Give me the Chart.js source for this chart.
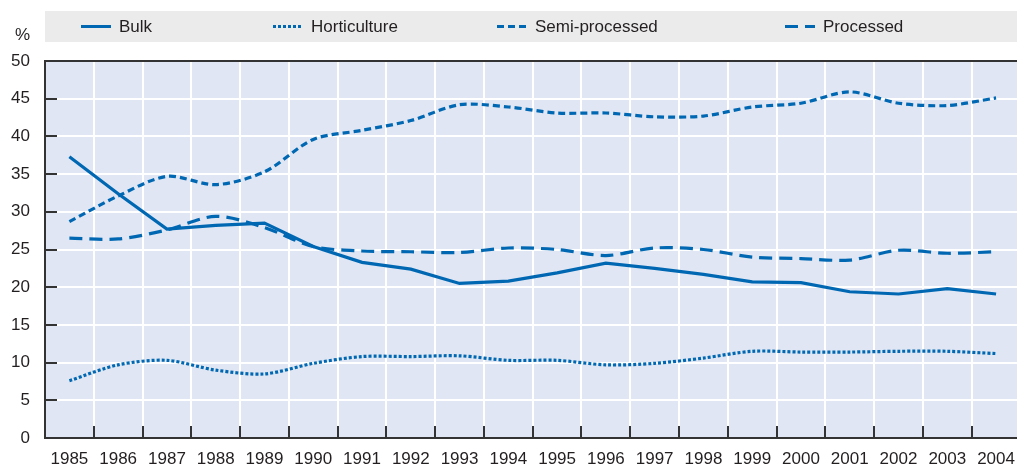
<!DOCTYPE html>
<html>
<head>
<meta charset="utf-8">
<script src="https://cdn.jsdelivr.net/npm/chart.js@4"></script>
<style>
  html, body { margin: 0; padding: 0; background: #fff; overflow: hidden; }
  #wrap { width: 1017px; height: 466px; overflow: hidden; }
</style>
</head>
<body>
<div id="wrap"><canvas id="chart" width="1026" height="466"></canvas></div>
<script>
// data
const years = ['1985', '1986', '1987', '1988', '1989', '1990', '1991', '1992', '1993', '1994',
               '1995', '1996', '1997', '1998', '1999', '2000', '2001', '2002', '2003', '2004'];
const bulk = [37.3, 32.4, 27.7, 28.2, 28.5, 25.4, 23.3, 22.4, 20.5, 20.8,
              21.9, 23.2, 22.5, 21.7, 20.7, 20.6, 19.4, 19.1, 19.8, 19.1];
const horticulture = [7.6, 9.7, 10.3, 9.0, 8.5, 9.9, 10.8, 10.8, 10.9, 10.3,
                      10.3, 9.7, 9.9, 10.6, 11.5, 11.4, 11.4, 11.5, 11.5, 11.2];
const semiProcessed = [28.7, 32.1, 34.7, 33.6, 35.3, 39.6, 40.8, 42.1, 44.2, 43.9,
                       43.1, 43.1, 42.6, 42.7, 43.9, 44.4, 45.9, 44.4, 44.1, 45.1];
const processed = [26.5, 26.4, 27.6, 29.4, 27.9, 25.4, 24.8, 24.7, 24.6, 25.2,
                   25.0, 24.2, 25.2, 25.0, 24.0, 23.8, 23.6, 24.9, 24.5, 24.7];
const yMin = 0, yMax = 50, yStep = 5;

const FONT = "'Liberation Sans', Arial, sans-serif";
const BLUE = '#0068b3';
const TEXT = '#231f20';
const AXIS = '#333333';

// background, legend band, inward ticks and top border
const frame = {
  id: 'frame',
  beforeDraw(chart) {
    const { ctx, chartArea: a } = chart;
    ctx.save();
    ctx.fillStyle = '#e0e6f3';
    ctx.fillRect(a.left, a.top, a.right - a.left, a.bottom - a.top);

    ctx.fillStyle = '#ebebeb';
    ctx.fillRect(a.left, 11, chart.width - a.left, 31);

    const xs = [81, 273, 497, 785];
    ctx.font = '17px ' + FONT;
    ctx.textBaseline = 'middle';
    chart.data.datasets.forEach((ds, i) => {
      ctx.strokeStyle = ds.borderColor;
      ctx.lineWidth = 3;
      ctx.setLineDash(ds.borderDash || []);
      ctx.beginPath();
      ctx.moveTo(xs[i], 26.5);
      ctx.lineTo(xs[i] + 30, 26.5);
      ctx.stroke();
      ctx.setLineDash([]);
      ctx.fillStyle = TEXT;
      ctx.fillText(ds.label, xs[i] + 38, 27);
    });
    ctx.font = '17px ' + FONT;
    ctx.fillText('%', 15, 35);
    ctx.restore();
  },
  beforeDatasetsDraw(chart) {
    const { ctx, chartArea: a, scales: { x, y } } = chart;
    ctx.save();
    ctx.strokeStyle = AXIS;
    ctx.lineWidth = 2;
    y.ticks.forEach((t, i) => {
      const py = Math.round(y.getPixelForTick(i));
      ctx.beginPath();
      ctx.moveTo(a.left, py);
      ctx.lineTo(a.left + 12, py);
      ctx.stroke();
    });
    for (let i = 1; i < years.length; i++) {
      const px = Math.round((x.getPixelForTick(i - 1) + x.getPixelForTick(i)) / 2);
      ctx.beginPath();
      ctx.moveTo(px, a.bottom - 12);
      ctx.lineTo(px, a.bottom);
      ctx.stroke();
    }
    ctx.beginPath();
    ctx.moveTo(a.left - 1, a.top);
    ctx.lineTo(a.right, a.top);
    ctx.stroke();
    ctx.restore();
  }
};

const line = (label, data, dash, tension) => ({
  label, data,
  borderColor: BLUE,
  borderWidth: 3.2,
  borderDash: dash,
  borderCapStyle: 'butt',
  tension,
  pointRadius: 0,
  fill: false
});

new Chart(document.getElementById('chart'), {
  type: 'line',
  data: {
    labels: years,
    datasets: [
      line('Bulk', bulk, [], 0),
      line('Horticulture', horticulture, [3, 2], 0.3),
      line('Semi-processed', semiProcessed, [7, 4], 0.3),
      line('Processed', processed, [13, 7], 0.3)
    ]
  },
  options: {
    responsive: false,
    animation: false,
    layout: { padding: { top: 61, right: 1, left: 0, bottom: 0 } },
    plugins: { legend: { display: false }, tooltip: { enabled: false } },
    scales: {
      x: {
        offset: true,
        grid: { offset: true, color: '#ffffff', lineWidth: 2, drawTicks: false },
        border: { color: AXIS, width: 2 },
        ticks: { color: TEXT, font: { family: FONT, size: 17 }, padding: 11, maxRotation: 0, autoSkip: false },
        afterFit(s) { s.height = 28; }
      },
      y: {
        min: yMin, max: yMax,
        grid: { color: '#ffffff', lineWidth: 2, drawTicks: false },
        border: { color: AXIS, width: 2 },
        ticks: { stepSize: yStep, color: TEXT, font: { family: FONT, size: 17 }, padding: 15 },
        afterFit(s) { s.width = 45; }
      }
    }
  },
  plugins: [frame]
});
</script>
</body>
</html>
